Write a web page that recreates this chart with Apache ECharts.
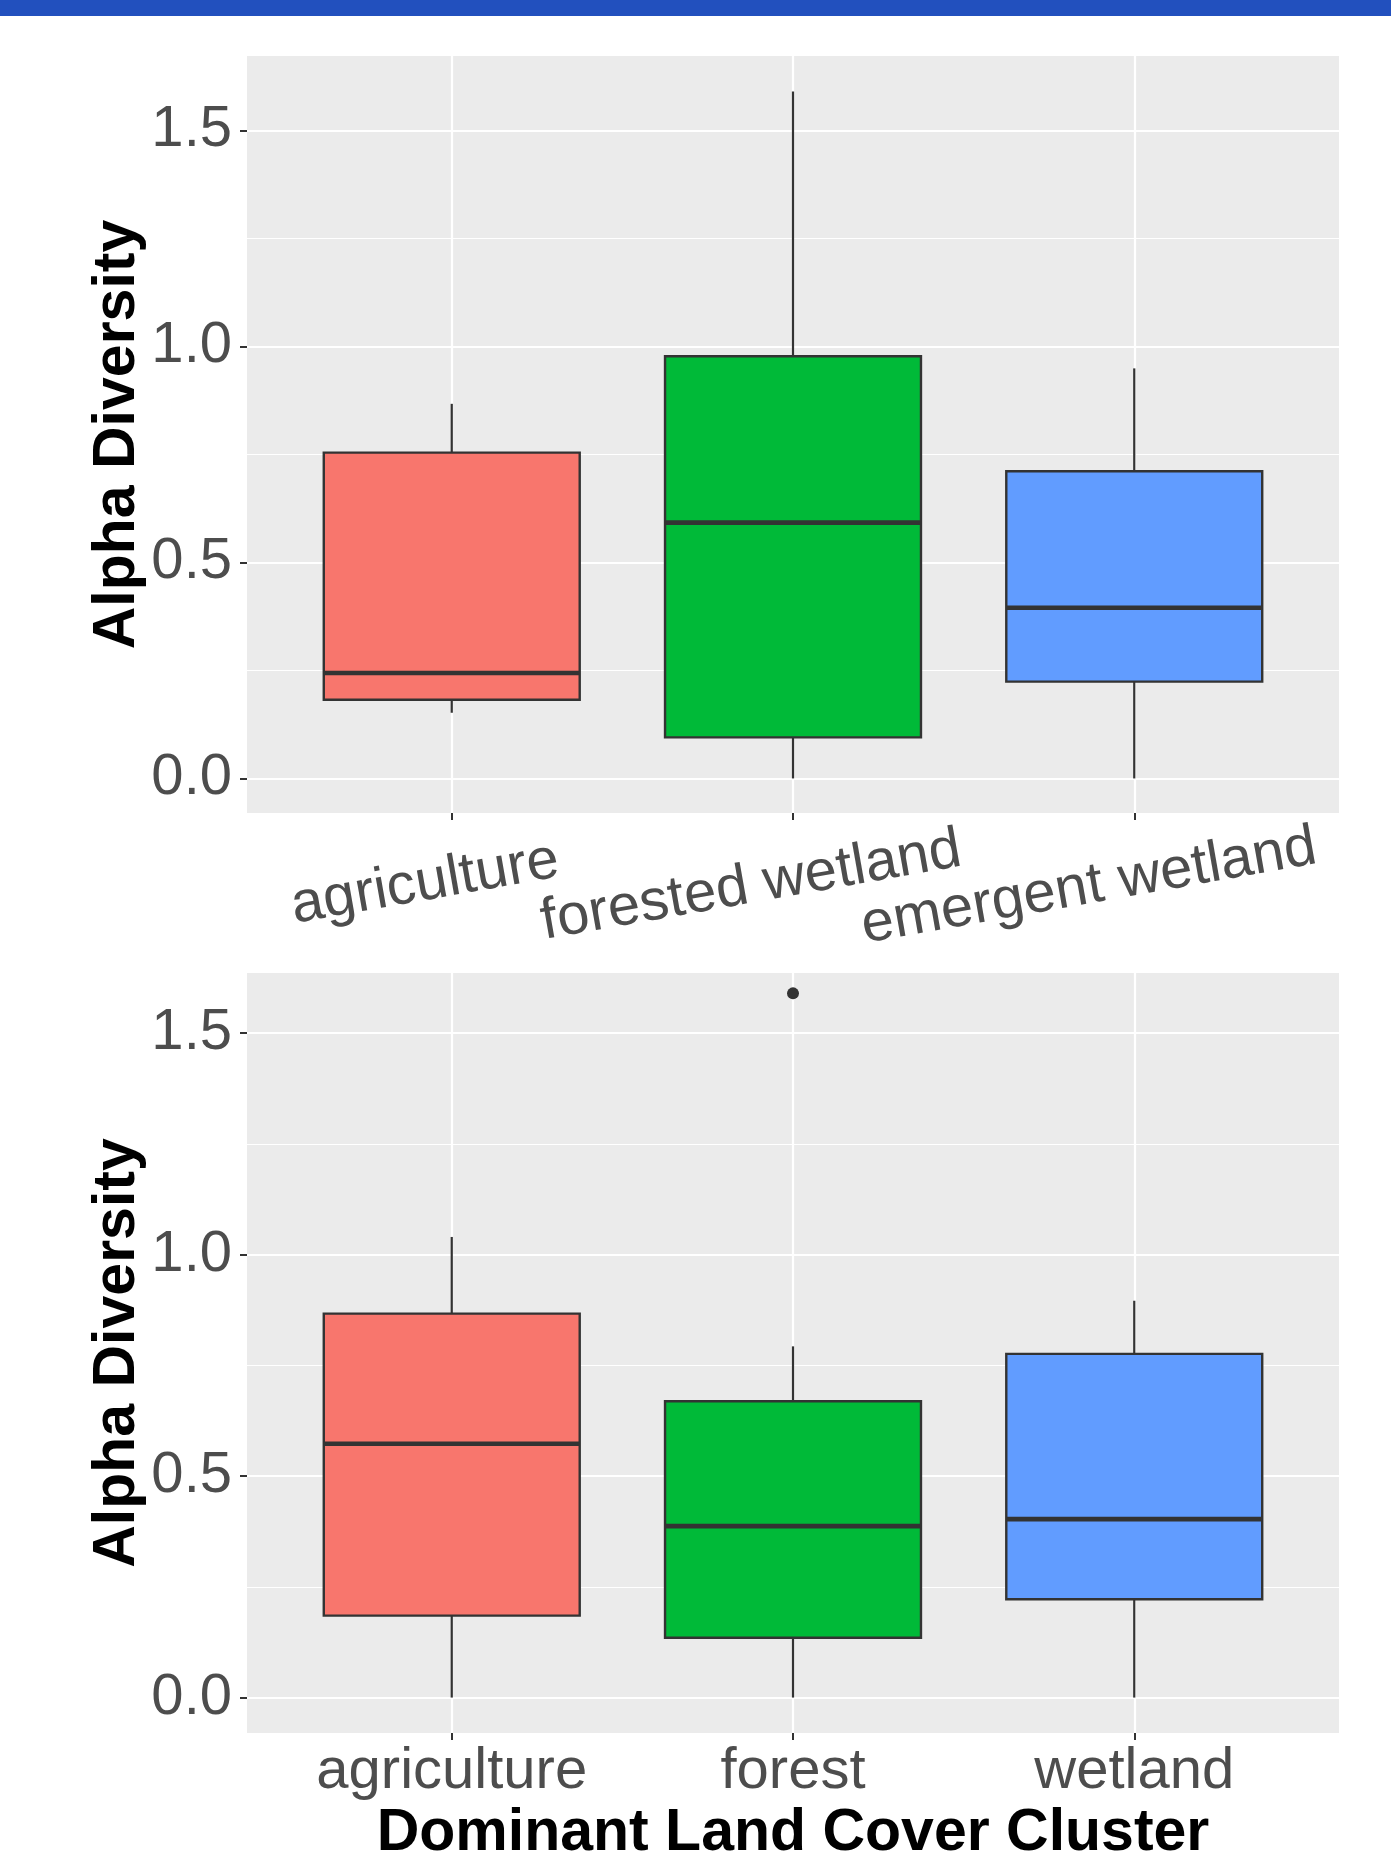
<!DOCTYPE html>
<html>
<head>
<meta charset="utf-8">
<script src="https://cdn.jsdelivr.net/npm/echarts@6/dist/echarts.min.js"></script>
<style>
html, body { margin: 0; padding: 0; background: #ffffff; }
#chart { width: 1391px; height: 1873px; }
</style>
</head>
<body>
<div id="chart"></div>
<script>
// ---------- data: top panel ----------
const topCategories = ['agriculture', 'forested wetland', 'emergent wetland'];
const topMin    = [0.152, 0.000, 0.000];
const topQ1     = [0.182, 0.095, 0.224];
const topMedian = [0.244, 0.592, 0.395];
const topQ3     = [0.754, 0.977, 0.711];
const topMax    = [0.867, 1.590, 0.949];

// ---------- data: bottom panel ----------
const bottomCategories = ['agriculture', 'forest', 'wetland'];
const bottomMin    = [0.000, 0.000, 0.000];
const bottomQ1     = [0.185, 0.135, 0.222];
const bottomMedian = [0.573, 0.387, 0.403];
const bottomQ3     = [0.867, 0.669, 0.776];
const bottomMax    = [1.040, 0.793, 0.896];
const bottomOutlierCategory = [1];      // index into bottomCategories
const bottomOutlierValue    = [1.590];

// ---------- axis ticks ----------
const yTickValues  = [0, 0.5, 1.0, 1.5];
const yTickLabels  = ['0.0', '0.5', '1.0', '1.5'];
const yMinorValues = [0.25, 0.75, 1.25];
const xPositions   = [1, 2, 3];

const yTitle = 'Alpha Diversity';
const xTitle = 'Dominant Land Cover Cluster';

const fillColors = ['#F8766D', '#00BA38', '#619CFF'];

// ---------- styling ----------
const FONT = '"Liberation Sans", Arial, Helvetica, sans-serif';
const LABEL_SIZE = 58;
const TITLE_SIZE = 59;
const LABEL_COLOR = '#4D4D4D';
const LINE_COLOR = '#333333';
const BOX_WIDTH = 0.75; // in category units

function measure(text, size) {
  const ctx = document.createElement('canvas').getContext('2d');
  ctx.font = size + 'px ' + FONT;
  return ctx.measureText(text).width;
}

const topRich = {};
topCategories.forEach(function (c, i) {
  topRich['t' + i] = {
    fontSize: LABEL_SIZE, fontFamily: FONT, color: LABEL_COLOR, lineHeight: 40,
    padding: [0, Math.round(0.2 * measure(c, LABEL_SIZE)), 0, 0]
  };
});

function boxData(mins, q1s, meds, q3s, maxs) {
  return mins.map(function (_, i) {
    return [xPositions[i], mins[i], q1s[i], meds[i], q3s[i], maxs[i]];
  });
}
const topBoxes = boxData(topMin, topQ1, topMedian, topQ3, topMax);
const bottomBoxes = boxData(bottomMin, bottomQ1, bottomMedian, bottomQ3, bottomMax);
const bottomOutliers = bottomOutlierCategory.map(function (c, i) {
  return [xPositions[c], bottomOutlierValue[i]];
});

function renderBox(params, api) {
  const x = api.value(0);
  const pMin = api.coord([x, api.value(1)]);
  const pQ1 = api.coord([x, api.value(2)]);
  const pMed = api.coord([x, api.value(3)]);
  const pQ3 = api.coord([x, api.value(4)]);
  const pMax = api.coord([x, api.value(5)]);
  const half = api.size([BOX_WIDTH, 0], [x, api.value(3)])[0] / 2;
  const cx = pMed[0];
  const fill = fillColors[params.dataIndex % fillColors.length];
  return {
    type: 'group',
    children: [
      { type: 'line', shape: { x1: cx, y1: pQ3[1], x2: cx, y2: pMax[1] },
        style: { stroke: LINE_COLOR, lineWidth: 2.2 } },
      { type: 'line', shape: { x1: cx, y1: pQ1[1], x2: cx, y2: pMin[1] },
        style: { stroke: LINE_COLOR, lineWidth: 2.2 } },
      { type: 'rect', shape: { x: cx - half, y: pQ3[1], width: 2 * half, height: pQ1[1] - pQ3[1] },
        style: { fill: fill, stroke: LINE_COLOR, lineWidth: 2.4 } },
      { type: 'line', shape: { x1: cx - half, y1: pMed[1], x2: cx + half, y2: pMed[1] },
        style: { stroke: LINE_COLOR, lineWidth: 4.6 } }
    ]
  };
}

function yLabel(v) {
  for (let i = 0; i < yTickValues.length; i++) {
    if (Math.abs(yTickValues[i] - v) < 1e-9) return yTickLabels[i];
  }
  return '';
}

function mainY(gridIndex, min, max) {
  return {
    gridIndex: gridIndex, type: 'value', position: 'left', min: min, max: max,
    name: yTitle, nameLocation: 'middle', nameGap: 100, nameMoveOverlap: false,
    nameTextStyle: { fontSize: TITLE_SIZE, fontWeight: 'bold', color: '#000000', fontFamily: FONT },
    axisLine: { show: false, onZero: false },
    axisTick: { show: true, length: 7, customValues: yTickValues, lineStyle: { color: LINE_COLOR, width: 2 } },
    axisLabel: { customValues: yTickValues, formatter: yLabel, margin: 15,
      fontSize: LABEL_SIZE, fontFamily: FONT, color: LABEL_COLOR },
    splitLine: { show: true, lineStyle: { color: '#FFFFFF', width: 2.2 } }
  };
}
function minorY(gridIndex, min, max) {
  return {
    gridIndex: gridIndex, type: 'value', position: 'right', min: min, max: max,
    axisLine: { show: false, onZero: false },
    axisTick: { show: false, customValues: yMinorValues },
    axisLabel: { show: false, customValues: yMinorValues },
    splitLine: { show: true, lineStyle: { color: '#FFFFFF', width: 1.1 } }
  };
}

const chart = echarts.init(document.getElementById('chart'), null, { renderer: 'canvas' });
chart.setOption({
  animation: false,
  backgroundColor: '#ffffff',
  graphic: [
    { type: 'rect', left: 0, top: 0, shape: { x: 0, y: 0, width: 1391, height: 16 }, style: { fill: '#2250BE' } }
  ],
  grid: [
    { left: 247, top: 56, width: 1092, height: 757, show: true, backgroundColor: '#EBEBEB', borderWidth: 0, outerBoundsMode: 'none' },
    { left: 247, top: 973, width: 1092, height: 760, show: true, backgroundColor: '#EBEBEB', borderWidth: 0, outerBoundsMode: 'none' }
  ],
  xAxis: [
    {
      gridIndex: 0, type: 'value', min: 0.4, max: 3.6,
      axisLine: { show: false, onZero: false },
      axisTick: { show: true, length: 7, customValues: xPositions, lineStyle: { color: LINE_COLOR, width: 2 } },
      axisLabel: {
        customValues: xPositions, rotate: 10, align: 'center', verticalAlign: 'middle', margin: 66,
        fontSize: LABEL_SIZE, fontFamily: FONT, color: LABEL_COLOR,
        formatter: function (v) { const i = Math.round(v) - 1; return '{t' + i + '|' + topCategories[i] + '}'; },
        rich: topRich
      },
      splitLine: { show: true, lineStyle: { color: '#FFFFFF', width: 2.2 } }
    },
    {
      gridIndex: 1, type: 'value', min: 0.4, max: 3.6,
      name: xTitle, nameLocation: 'middle', nameGap: 71, nameMoveOverlap: false,
      nameTextStyle: { fontSize: TITLE_SIZE, fontWeight: 'bold', color: '#000000', fontFamily: FONT },
      axisLine: { show: false, onZero: false },
      axisTick: { show: true, length: 7, customValues: xPositions, lineStyle: { color: LINE_COLOR, width: 2 } },
      axisLabel: {
        customValues: xPositions, margin: 10,
        fontSize: LABEL_SIZE, fontFamily: FONT, color: LABEL_COLOR,
        formatter: function (v) { return bottomCategories[Math.round(v) - 1]; }
      },
      splitLine: { show: true, lineStyle: { color: '#FFFFFF', width: 2.2 } }
    }
  ],
  yAxis: [
    mainY(0, -0.080, 1.672),
    minorY(0, -0.080, 1.672),
    mainY(1, -0.080, 1.636),
    minorY(1, -0.080, 1.636)
  ],
  series: [
    { type: 'custom', name: 'top', xAxisIndex: 0, yAxisIndex: 0, data: topBoxes,
      encode: { x: 0, y: [1, 2, 3, 4, 5] }, renderItem: renderBox, z: 3 },
    { type: 'custom', name: 'bottom', xAxisIndex: 1, yAxisIndex: 2, data: bottomBoxes,
      encode: { x: 0, y: [1, 2, 3, 4, 5] }, renderItem: renderBox, z: 3 },
    { type: 'scatter', name: 'outliers', xAxisIndex: 1, yAxisIndex: 2, data: bottomOutliers,
      symbol: 'circle', symbolSize: 12, itemStyle: { color: LINE_COLOR, opacity: 1 }, z: 4 }
  ]
});
</script>
</body>
</html>
